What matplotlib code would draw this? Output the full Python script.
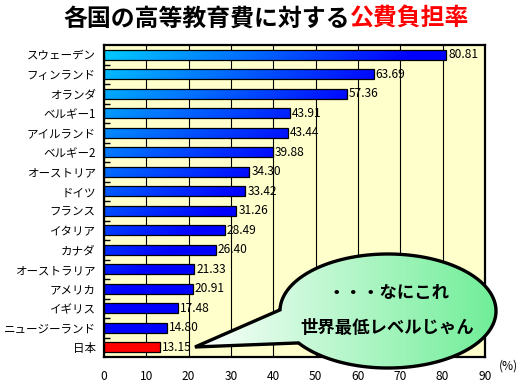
import numpy as np
import matplotlib
matplotlib.use("Agg")
import matplotlib.pyplot as plt
from matplotlib.patches import Polygon
from matplotlib.colors import LinearSegmentedColormap

plt.rcParams['font.family'] = ['Noto Sans CJK JP', 'DejaVu Sans']

countries = ["スウェーデン", "フィンランド", "オランダ", "ベルギー1", "アイルランド", "ベルギー2",
             "オーストリア", "ドイツ", "フランス", "イタリア", "カナダ", "オーストラリア",
             "アメリカ", "イギリス", "ニュージーランド", "日本"]
values = [80.81, 63.69, 57.36, 43.91, 43.44, 39.88, 34.30, 33.42, 31.26, 28.49,
          26.40, 21.33, 20.91, 17.48, 14.80, 13.15]
value_labels = ["80.81", "63.69", "57.36", "43.91", "43.44", "39.88", "34.30", "33.42",
                "31.26", "28.49", "26.40", "21.33", "20.91", "17.48", "14.80", "13.15"]
xticks = [0, 10, 20, 30, 40, 50, 60, 70, 80, 90]
title_black = "各国の高等教育費に対する"
title_red = "公費負担率"
callout_line1 = "・・・なにこれ"
callout_line2 = "世界最低レベルじゃん"
unit_label = "(%)"

W, H = 530, 384
fig = plt.figure(figsize=(W / 100, H / 100), dpi=100)
fig.patch.set_facecolor("white")

ax_l, ax_r, ax_t, ax_b = 104, 485, 45, 357
ax = fig.add_axes([ax_l / W, 1 - ax_b / H, (ax_r - ax_l) / W, (ax_b - ax_t) / H])
ax.set_facecolor("#FFFFCC")

n = len(countries)
ypos = np.arange(n)
bar_h = 0.52
bars = ax.barh(ypos, values, height=bar_h, color="#0000FF", edgecolor="black",
               linewidth=0.9, zorder=3)

# shared diagonal gradient over plot area (cyan -> blue)
cmap = LinearSegmentedColormap.from_list("cb", [(0.0, 0.82, 1.0), (0.0, 0.0, 1.0)])
gx = np.linspace(0, 1, 400)
gy = np.linspace(0, 1, 320)
GX, GY = np.meshgrid(gx, gy)
S = np.clip(((GX + GY) / 2) / 0.42, 0, 1)
for i, b in enumerate(bars):
    if countries[i] == "日本":
        b.set_facecolor("#FF0000")
        continue
    im = ax.imshow(S, cmap=cmap, vmin=0, vmax=1, extent=[0, 90, n - 0.5, -0.5],
                   aspect="auto", zorder=3, interpolation="bilinear")
    im.set_clip_path(b)
    b.set_facecolor("none")
    b.set_zorder(4)

for i, (v, lab) in enumerate(zip(values, value_labels)):
    ax.annotate(lab, (v, i), xytext=(1.5, 0), textcoords="offset points",
                va="center", ha="left", fontsize=8.6, zorder=5)

ax.set_xlim(0, 90)
ax.set_ylim(n - 0.5, -0.5)
ax.set_xticks(xticks)
ax.set_xticklabels([str(t) for t in xticks], fontsize=8.6)
ax.set_yticks(ypos)
ax.set_yticklabels(countries, fontsize=8.3)
ax.set_yticks(np.arange(0.5, n - 1, 1), minor=True)
ax.tick_params(axis="y", which="major", length=0, pad=6)
ax.tick_params(axis="y", which="minor", length=4, direction="in", width=1, left=True)
ax.tick_params(axis="x", which="major", length=0, pad=9)
ax.grid(axis="x", color="black", linewidth=0.8, zorder=1)
ax.set_axisbelow(True)
for sp in ax.spines.values():
    sp.set_linewidth(1.6)
    sp.set_zorder(6)

fig.text(508 / W, 1 - 366 / H, unit_label, fontsize=8.6, ha="center", va="center")

# title
fig.text(350 / W, 1 - 19 / H, title_black, fontsize=17.2, fontweight="bold",
         color="black", ha="right", va="center")
fig.text(350 / W, 1 - 19 / H, title_red, fontsize=17.2, fontweight="bold",
         color="#FF0000", ha="left", va="center")

# callout overlay
ov = fig.add_axes([0, 0, 1, 1], zorder=10)
ov.set_xlim(0, W)
ov.set_ylim(H, 0)
ov.axis("off")
ov.patch.set_alpha(0)
cx, cy, a, bb = 388, 311, 108, 57
th0 = np.pi + 0.02
th1 = 2 * np.pi + 2.547
th = np.linspace(th0, th1, 300)
pts = np.column_stack([cx + a * np.cos(th), cy + bb * np.sin(th)])
pts = np.vstack([pts, [[195, 347]]])
poly = Polygon(pts, closed=True, facecolor="none", edgecolor="black",
               linewidth=2.4, joinstyle="miter", zorder=3)
ov.add_patch(poly)
gcm = LinearSegmentedColormap.from_list("wg", ["#FFFFFF", "#70EE98"])
grad = np.tile(np.linspace(0, 1, 300), (50, 1))
gim = ov.imshow(grad, cmap=gcm, extent=[190, 497, 370, 250], aspect="auto",
                zorder=2, interpolation="bilinear")
gim.set_clip_path(poly)
ov.set_xlim(0, W)
ov.set_ylim(H, 0)
ov.text(388, 293, callout_line1, fontsize=12.5, fontweight="bold", ha="center",
        va="center", zorder=4)
ov.text(387, 328, callout_line2, fontsize=12.5, fontweight="bold", ha="center",
        va="center", zorder=4)

fig.savefig("out.png", dpi=100)
